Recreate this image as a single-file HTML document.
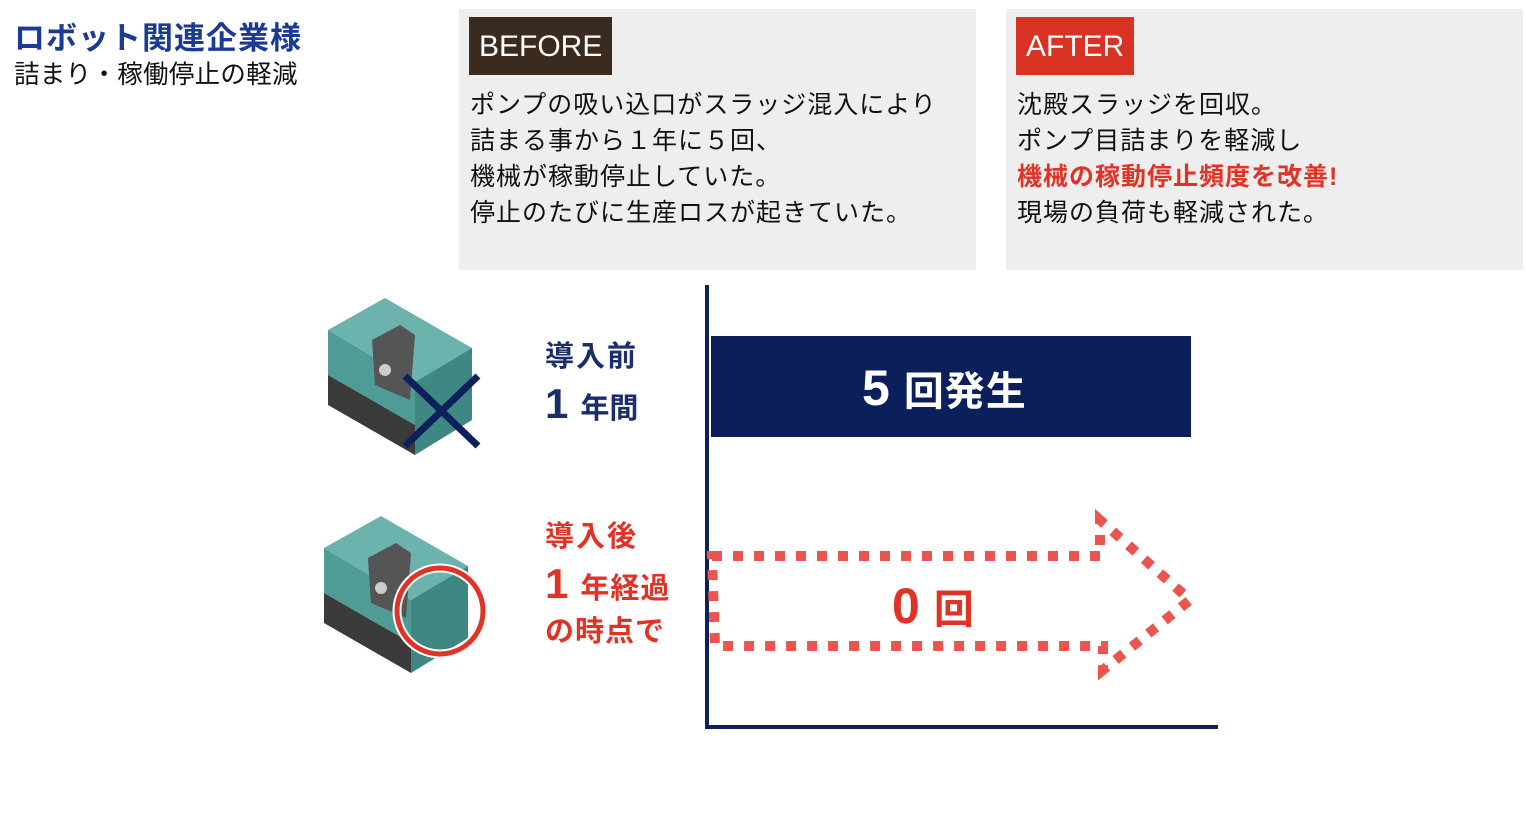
<!DOCTYPE html>
<html><head><meta charset="utf-8"><style>
body{margin:0;width:1526px;height:821px;background:#fff;position:relative;overflow:hidden;font-family:"Liberation Sans","Noto Sans CJK JP",sans-serif;}
.a{position:absolute;white-space:nowrap}
.box{position:absolute;top:9px;width:517px;height:261px;background:#eeeeee}
.lbl{position:absolute;top:8px;left:10px;height:58px;color:#fff;font-size:30px;line-height:60px;padding:0 10px}
.txt{position:absolute;left:11px;top:78px;font-size:25px;line-height:36px;color:#111;letter-spacing:1px}
.b{font-weight:bold}
</style></head><body>
<div class="a b" style="left:14px;top:19px;font-size:31px;color:#1b3a94;line-height:40px;letter-spacing:1px">ロボット関連企業様</div>
<div class="a" style="left:14px;top:58px;font-size:25.5px;color:#111;line-height:34px;letter-spacing:0.3px">詰まり・稼働停止の軽減</div>

<div class="box" style="left:459px"><div class="lbl" style="background:#3b2b1e">BEFORE</div>
<div class="txt">ポンプの吸い込口がスラッジ混入により<br>詰まる事から１年に５回、<br>機械が稼動停止していた。<br>停止のたびに生産ロスが起きていた。</div></div>
<div class="box" style="left:1006px"><div class="lbl" style="background:#d73222">AFTER</div>
<div class="txt">沈殿スラッジを回収。<br>ポンプ目詰まりを軽減し<br><span class="b" style="color:#e03326">機械の稼動停止頻度を改善!</span><br>現場の負荷も軽減された。</div></div>

<svg class="a" style="left:0;top:0" width="1526" height="821">
<defs><g id="m">
<polygon points="328,330 385,298 472,348 415,382" fill="#6cb2ad"/>
<polygon points="328,330 415,382 415,425 328,375" fill="#4f9c96"/>
<polygon points="328,375 415,425 415,455 328,405" fill="#3a3a3a"/>
<polygon points="415,382 472,348 472,420 415,455" fill="#3e8782"/>
<polygon points="372,340 400,325 415,335 410,400 375,385" fill="#555"/>
<circle cx="385" cy="370" r="6" fill="#ccc"/>
</g></defs>
<use href="#m"/>
<line x1="405" y1="376" x2="478" y2="446" stroke="#0d1f5c" stroke-width="7"/>
<line x1="405" y1="446" x2="478" y2="376" stroke="#0d1f5c" stroke-width="7"/>
<use href="#m" transform="translate(-4,218)"/>
<circle cx="440" cy="611" r="43" fill="none" stroke="#fff" stroke-width="9"/>
<circle cx="440" cy="611" r="43" fill="none" stroke="#e03326" stroke-width="5"/>
<rect x="705" y="285" width="4" height="443" fill="#0d1f5c"/>
<rect x="705" y="725" width="513" height="4" fill="#0d1f5c"/>
<rect x="711" y="336" width="480" height="101" fill="#0b1f5a"/>
<path d="M712,556 L1100,556 L1100,520 L1190,600 L1103,670 L1103,646 L715,646 Z" fill="none" stroke="#ea5550" stroke-width="10" stroke-dasharray="10 11"/>
</svg>

<div class="a b" style="left:545px;top:338px;font-size:29px;color:#1b2d6a;line-height:38px;letter-spacing:2px">導入前</div>
<div class="a b" style="left:545px;top:380px;color:#1b2d6a;line-height:48px"><span style="font-size:42px">1</span><span style="font-size:29px;margin-left:12px">年間</span></div>
<div class="a b" style="left:545px;top:518px;font-size:29px;color:#e03326;line-height:38px;letter-spacing:2px">導入後</div>
<div class="a b" style="left:545px;top:560px;color:#e03326;line-height:48px"><span style="font-size:42px">1</span><span style="font-size:29px;margin-left:12px;letter-spacing:1px">年経過</span></div>
<div class="a b" style="left:545px;top:613px;font-size:29px;color:#e03326;line-height:38px;letter-spacing:1px">の時点で</div>

<div class="a b" style="left:862px;top:358px;color:#fff;line-height:60px"><span style="font-size:50px">5</span><span style="font-size:40px;margin-left:14px;letter-spacing:1px">回発生</span></div>
<div class="a b" style="left:892px;top:576px;color:#e03326;line-height:60px"><span style="font-size:50px">0</span><span style="font-size:40px;margin-left:14px">回</span></div>
</body></html>
